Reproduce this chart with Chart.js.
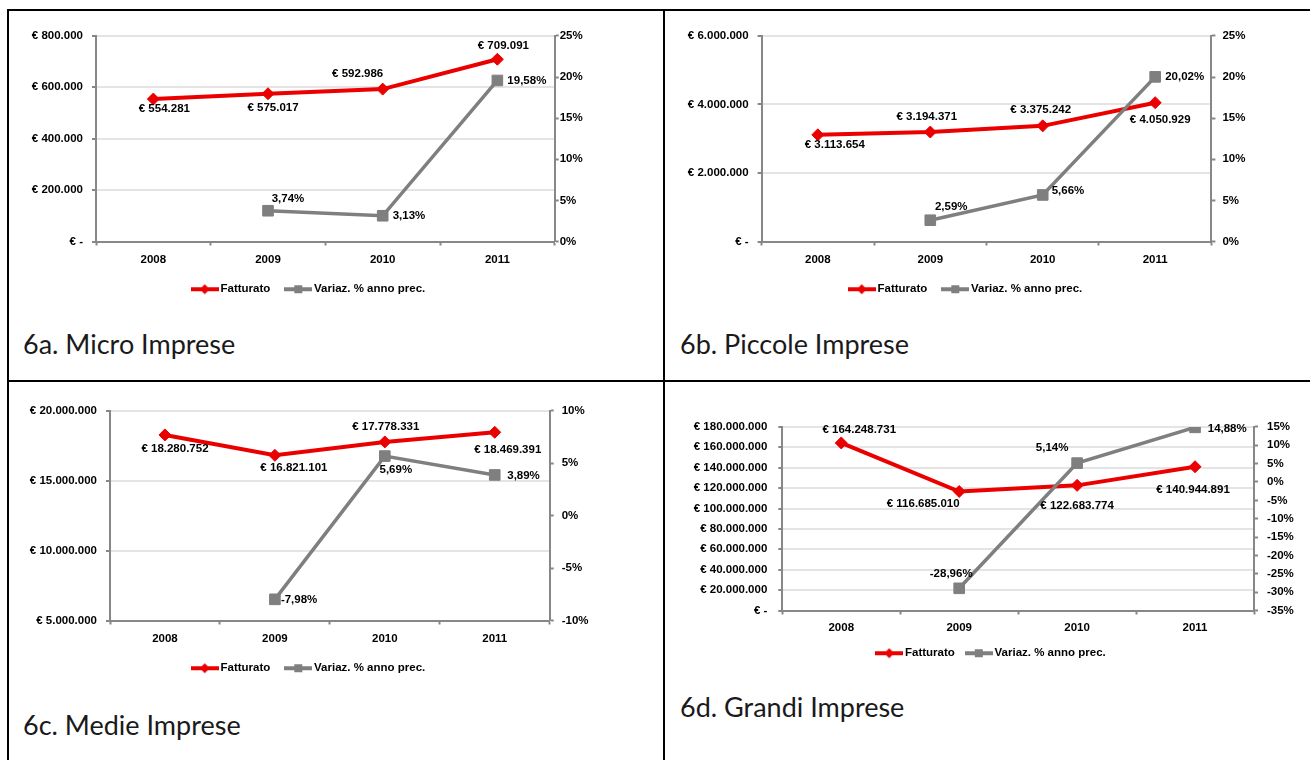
<!DOCTYPE html>
<html>
<head>
<meta charset="utf-8">
<script src="https://cdn.jsdelivr.net/npm/chart.js@4.4.1/dist/chart.umd.min.js"></script>
<style>
  html, body { margin: 0; padding: 0; background: #fff; }
  body { width: 1310px; height: 760px; position: relative; overflow: hidden; }
  .rule { position: absolute; background: #000; }
  canvas { position: absolute; }
  .title { position: absolute; font-family: Lato, "Open Sans", sans-serif; font-size: 27px; line-height: 27px;
           color: #1a1a1a; white-space: nowrap; }
</style>
</head>
<body>
<div class="rule" style="left:7px;top:9px;width:1303px;height:2px"></div>
<div class="rule" style="left:7px;top:9px;width:2px;height:751px"></div>
<div class="rule" style="left:663px;top:9px;width:2px;height:751px"></div>
<div class="rule" style="left:7px;top:380px;width:1303px;height:2px"></div>

<script>
// ---- data -------------------------------------------------------------
const years = ['2008', '2009', '2010', '2011'];
const seriesNames = ['Fatturato', 'Variaz. % anno prec.'];
const panelTitles = ['6a. Micro Imprese', '6b. Piccole Imprese', '6c. Medie Imprese', '6d. Grandi Imprese'];

const microFatturato = [554281, 575017, 592986, 709091];
const microVariaz = [null, 3.74, 3.13, 19.58];
const piccoleFatturato = [3113654, 3194371, 3375242, 4050929];
const piccoleVariaz = [null, 2.59, 5.66, 20.02];
const medieFatturato = [18280752, 16821101, 17778331, 18469391];
const medieVariaz = [null, -7.98, 5.69, 3.89];
const grandiFatturato = [164248731, 116685010, 122683774, 140944891];
const grandiVariaz = [null, -28.96, 5.14, 14.88];

// axis ranges: [min, max, step]
const microEuroAxis = [0, 800000, 200000];
const microPctAxis = [0, 25, 5];
const piccoleEuroAxis = [0, 6000000, 2000000];
const piccolePctAxis = [0, 25, 5];
const medieEuroAxis = [5000000, 20000000, 5000000];
const mediePctAxis = [-10, 10, 5];
const grandiEuroAxis = [0, 180000000, 20000000];
const grandiPctAxis = [-35, 15, 5];

// ---- formatting -------------------------------------------------------
function thousands(n) {
  return String(Math.round(n)).replace(/\B(?=(\d{3})+(?!\d))/g, '.');
}
function euro(v) { return v === 0 ? '€ -' : '€ ' + thousands(v); }
function pct(v) { return v.toFixed(2).replace('.', ',') + '%'; }

const FONT = '"Liberation Sans", Arial, sans-serif';
const FONT_SIZE = 11.5;
const RED = 'rgb(235,0,0)';
const GREY = '#7f7f7f';
const AXIS = '#878787';

// legend swatch: short line with the series marker on it
function legendSwatch(color, shape) {
  const c = document.createElement('canvas');
  c.width = 28; c.height = 14;
  const g = c.getContext('2d');
  g.strokeStyle = color; g.lineWidth = 4;
  g.beginPath(); g.moveTo(0, 7); g.lineTo(28, 7); g.stroke();
  g.fillStyle = color;
  g.beginPath();
  if (shape === 'diamond') { g.moveTo(14, 2); g.lineTo(19, 7); g.lineTo(14, 12); g.lineTo(9, 7); g.closePath(); }
  else { g.rect(10, 3, 8, 8); }
  g.fill();
  return c;
}
const redSwatch = legendSwatch(RED, 'diamond');
const greySwatch = legendSwatch(GREY, 'square');

// value labels next to the points
const pointLabels = {
  id: 'pointLabels',
  afterDatasetsDraw(chart) {
    const ctx = chart.ctx;
    chart.data.datasets.forEach((ds, di) => {
      const place = ds.labelPlacement;
      if (!place) return;
      const meta = chart.getDatasetMeta(di);
      ctx.save();
      ctx.font = 'bold ' + FONT_SIZE + 'px ' + FONT;
      ctx.fillStyle = '#000';
      ctx.textBaseline = 'middle';
      meta.data.forEach((pt, i) => {
        const v = ds.data[i];
        if (v === null || v === undefined || !place[i]) return;
        const [dx, dy, align] = place[i];
        ctx.textAlign = align || 'center';
        const text = ds.labelKind === 'eur' ? euro(v) : pct(v);
        ctx.fillText(text, pt.x + dx, pt.y + dy);
      });
      ctx.restore();
    });
  }
};

function makePanel(p) {
  const cv = document.createElement('canvas');
  cv.width = p.box[2]; cv.height = p.box[3];
  cv.style.left = p.box[0] + 'px'; cv.style.top = p.box[1] + 'px';
  document.body.appendChild(cv);

  const tickFont = { family: FONT, size: FONT_SIZE, weight: 'bold' };

  new Chart(cv, {
    type: 'line',
    data: {
      labels: years,
      datasets: [
        {
          label: seriesNames[0], data: p.fatturato, yAxisID: 'y', order: 1,
          borderColor: RED, backgroundColor: RED, borderWidth: 4, tension: 0,
          pointStyle: 'rectRot', pointRadius: 6, pointBackgroundColor: RED, pointBorderColor: RED,
          pointBorderWidth: 1, labelKind: 'eur', labelPlacement: p.fattPlace
        },
        {
          label: seriesNames[1], data: p.variaz, yAxisID: 'y1', order: 0,
          borderColor: GREY, backgroundColor: GREY, borderWidth: 3.5, tension: 0,
          pointStyle: 'rect', pointRadius: 7.5, pointBackgroundColor: GREY, pointBorderColor: GREY,
          pointBorderWidth: 1, labelKind: 'pct', labelPlacement: p.varPlace
        }
      ]
    },
    options: {
      responsive: false,
      animation: false,
      events: [],
      layout: { padding: { top: 10, left: 0, right: 0, bottom: 0 } },
      plugins: {
        tooltip: { enabled: false },
        legend: {
          position: 'bottom',
          align: 'center',
          labels: {
            usePointStyle: true,
            pointStyleWidth: 20,
            padding: p.legendPad,
            color: '#000',
            font: tickFont,
            generateLabels: (chart) => [
              { text: chart.data.datasets[0].label, pointStyle: redSwatch, datasetIndex: 0,
                fillStyle: RED, strokeStyle: RED, lineWidth: 0, hidden: false, fontColor: '#000' },
              { text: chart.data.datasets[1].label, pointStyle: greySwatch, datasetIndex: 1,
                fillStyle: GREY, strokeStyle: GREY, lineWidth: 0, hidden: false, fontColor: '#000' }
            ]
          }
        }
      },
      scales: {
        x: {
          type: 'category',
          offset: true,
          grid: { display: true, drawOnChartArea: false, drawTicks: true, offset: true,
                  tickLength: 4, tickColor: AXIS, tickWidth: 2, color: AXIS },
          border: { display: true, color: AXIS, width: 2 },
          ticks: { color: '#000', font: tickFont, padding: p.xPad, maxRotation: 0, autoSkip: false },
          afterFit: (s) => { s.height = p.xHeight; }
        },
        y: {
          position: 'left',
          min: p.euroAxis[0], max: p.euroAxis[1],
          grid: { color: '#e4e4e4', lineWidth: 2, tickColor: AXIS, tickLength: 4, tickWidth: 2 },
          border: { display: true, color: AXIS, width: 2 },
          ticks: { stepSize: p.euroAxis[2], color: '#000', font: tickFont, padding: p.leftPad,
                   callback: (v) => euro(v) },
          afterFit: (s) => { s.width = p.leftW; }
        },
        y1: {
          position: 'right',
          min: p.pctAxis[0], max: p.pctAxis[1],
          grid: { drawOnChartArea: false, tickColor: AXIS, tickLength: 4, tickWidth: 2, color: AXIS },
          border: { display: true, color: AXIS, width: 2 },
          ticks: { stepSize: p.pctAxis[2], color: '#000', font: tickFont, padding: p.rightPad,
                   callback: (v) => v + '%' },
          afterFit: (s) => { s.width = p.rightW; }
        }
      }
    },
    plugins: [pointLabels]
  });

  const t = document.createElement('div');
  t.className = 'title';
  t.textContent = p.title;
  t.style.left = p.titlePos[0] + 'px';
  t.style.top = p.titlePos[1] + 'px';
  document.body.appendChild(t);
}

makePanel({
  title: panelTitles[0], titlePos: [23, 330],
  box: [20, 20, 580, 285], leftW: 76, rightW: 45.3, leftPad: 9, rightPad: 1,
  xHeight: 24, xPad: 7, legendPad: 18,
  fatturato: microFatturato, variaz: microVariaz,
  euroAxis: microEuroAxis, pctAxis: microPctAxis,
  fattPlace: [[11, 10], [5, 14], [-25, -15], [6, -13]],
  varPlace: [null, [20, -12], [10, 0, 'left'], [10, 0, 'left']]
});

makePanel({
  title: panelTitles[1], titlePos: [680, 330],
  box: [680, 20, 574, 285], leftW: 81.6, rightW: 42.6, leftPad: 9, rightPad: 7,
  xHeight: 24, xPad: 7, legendPad: 18,
  fatturato: piccoleFatturato, variaz: piccoleVariaz,
  euroAxis: piccoleEuroAxis, pctAxis: piccolePctAxis,
  fattPlace: [[17, 10], [-3.5, -15], [-2, -16], [5, 17]],
  varPlace: [null, [21, -13], [9, -4, 'left'], [10, 0, 'left']]
});

makePanel({
  title: panelTitles[2], titlePos: [23, 711],
  box: [20, 395, 580, 289], leftW: 90, rightW: 50.3, leftPad: 9, rightPad: 8,
  xHeight: 24, xPad: 7, legendPad: 18,
  fatturato: medieFatturato, variaz: medieVariaz,
  euroAxis: medieEuroAxis, pctAxis: mediePctAxis,
  fattPlace: [[10, 13.5], [19, 12.5], [1, -15], [13, 18]],
  varPlace: [null, [6, 0, 'left'], [11, 14], [12.5, 0.5, 'left']]
});

makePanel({
  title: panelTitles[3], titlePos: [680, 693],
  box: [680, 409, 625, 260], leftW: 102.3, rightW: 51, leftPad: 11, rightPad: 9,
  xHeight: 23, xPad: 6, legendPad: 14,
  fatturato: grandiFatturato, variaz: grandiVariaz,
  euroAxis: grandiEuroAxis, pctAxis: grandiPctAxis,
  fattPlace: [[18, -13], [-36, 12.5], [0, 20], [-2, 23]],
  varPlace: [null, [-8, -14.5], [-25, -15], [12.7, 1, 'left']]
});
</script>
</body>
</html>
